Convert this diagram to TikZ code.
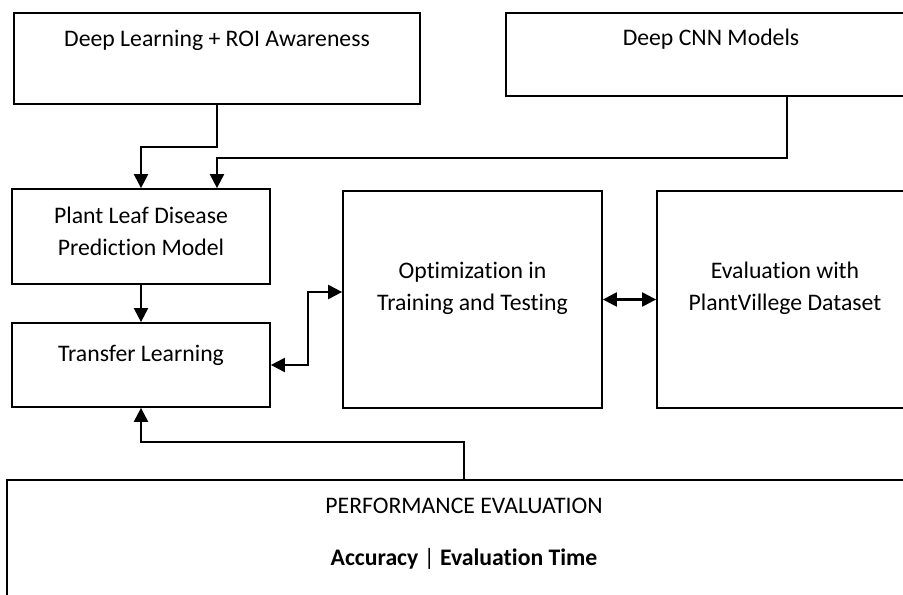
\documentclass[tikz,border=0pt]{standalone}
\usepackage{fontspec}
\setmainfont[Ligatures=NoCommon]{Carlito}
\usetikzlibrary{arrows.meta,positioning}

\begin{document}
\begin{tikzpicture}[
    >={Triangle[length=8pt,width=8pt]},
    box/.style={draw,line width=1pt,inner sep=0pt},
    txt/.style={align=center,inner sep=0pt,font=\fontsize{13.5}{18}\selectfont},
    conn/.style={line width=1.2pt}
  ]
    \clip (0,0) rectangle (18.06,11.88);
    % boxes
    \node [box,minimum width=8.12cm,minimum height=1.82cm] (roi) at (4.34,10.71) {};
    \node [box,minimum width=8.20cm,minimum height=1.66cm] (cnn) at (14.22,10.79) {};
    \node [box,minimum width=5.16cm,minimum height=1.90cm] (pred) at (2.82,7.15) {};
    \node [box,minimum width=5.16cm,minimum height=1.68cm] (tl) at (2.82,4.58) {};
    \node [box,minimum width=5.18cm,minimum height=4.34cm] (opt) at (9.45,5.89) {};
    \node [box,minimum width=5.12cm,minimum height=4.34cm] (eval) at (15.70,5.89) {};
    \node [box,minimum width=18.28cm,minimum height=2.88cm] (perf) at (9.28,0.84) {};
    % texts
    \node [txt] (roitext) at ([yshift=-0.56cm]roi.north) {Deep Learning + ROI Awareness};
    \node [txt] (cnntext) at ([yshift=-0.54cm]cnn.north) {Deep CNN Models};
    \node [txt] (predtext) at ([yshift=-0.86cm]pred.north) {Plant Leaf Disease\\Prediction Model};
    \node [txt] (tltext) at ([yshift=-0.66cm]tl.north) {Transfer Learning};
    \node [txt] (opttext) at ([yshift=-1.96cm]opt.north) {Optimization in\\Training and Testing};
    \node [txt] (evaltext) at ([yshift=-1.96cm]eval.north) {Evaluation with\\PlantVillege Dataset};
    \node [txt] (perftext) at ([yshift=-0.54cm]perf.north) {PERFORMANCE EVALUATION};
    \node [txt] (metrictext) at ([yshift=-1.60cm]perf.north) {\textbf{Accuracy} | \textbf{Evaluation Time}};
    % connectors
    \coordinate (cnnout) at ([xshift=1.52cm]cnn.south);
    \coordinate (predin) at ([xshift=1.52cm]pred.north);
    \draw [conn,->] (roi.south) -- ++(0,-0.84) -| (pred.north);
    \draw [conn,->] (cnnout) -- ++(0,-1.22) -| (predin);
    \draw [conn,->] (pred.south) -- (tl.north);
    \draw [conn,<->] (tl.east) -- ++(0.74,0) |- ([yshift=0.15cm]opt.west);
    \draw [conn,<->] (opt.east) -- (eval.west);
    \draw [conn,->] (perf.north) -- ++(0,0.74) -| (tl.south);
\end{tikzpicture}
\end{document}
